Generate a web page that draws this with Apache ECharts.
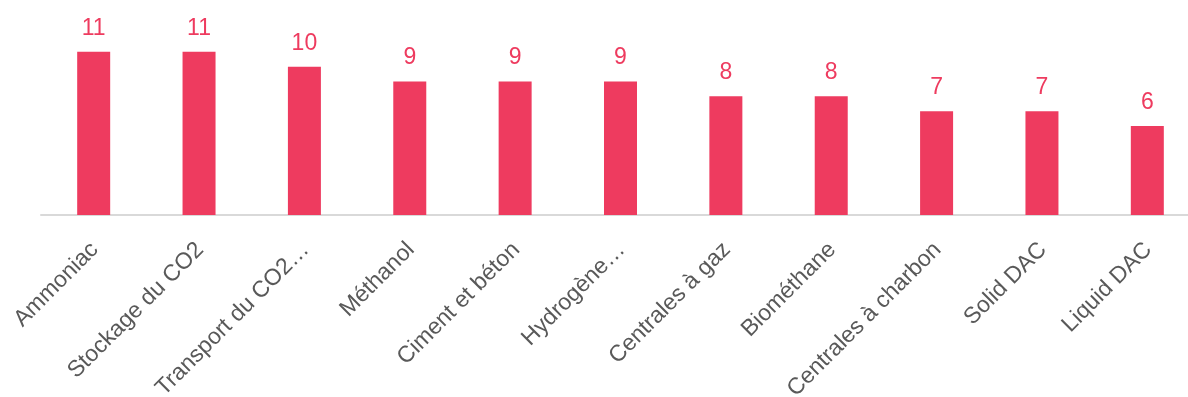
<!DOCTYPE html>
<html>
<head>
<meta charset="utf-8">
<script src="https://cdn.jsdelivr.net/npm/echarts@6/dist/echarts.min.js"></script>
<style>
    html, body { margin: 0; padding: 0; background: #fff; }
    #chart { width: 1188px; height: 397px; }
</style>
</head>
<body>
<div id="chart"></div>
<script>
    const categories = ['Ammoniac', 'Stockage du CO2', 'Transport du CO2…', 'Méthanol', 'Ciment et béton',
        'Hydrogène…', 'Centrales à gaz', 'Biométhane', 'Centrales à charbon', 'Solid DAC', 'Liquid DAC'];
    const values = [11, 11, 10, 9, 9, 9, 8, 8, 7, 7, 6];

    const myChart = echarts.init(document.getElementById('chart'));

    const option = {
        animation: false,
        textStyle: {
            fontFamily: 'Liberation Sans, Arial, sans-serif'
        },
        grid: {
            left: 41,
            right: -12,
            top: 37,
            bottom: 182,
            containLabel: false,
            outerBoundsMode: 'none'
        },
        xAxis: {
            type: 'category',
            data: categories,
            axisLine: {
                lineStyle: {
                    color: '#d9d9d9',
                    width: 2
                }
            },
            axisTick: {
                show: false
            },
            axisLabel: {
                interval: 0,
                rotate: 45,
                fontSize: 23,
                color: '#595959',
                margin: 16,
                padding: [0, 10, 0, 0],
                align: 'right',
                verticalAlign: 'top'
            }
        },
        yAxis: {
            type: 'value',
            min: 0,
            max: 12,
            show: false
        },
        series: [
            {
                type: 'bar',
                data: values,
                barWidth: 33,
                itemStyle: {
                    color: '#ee3b5f'
                },
                label: {
                    show: true,
                    position: 'top',
                    distance: 12,
                    fontSize: 23,
                    color: '#ee3b5f'
                }
            }
        ]
    };

    myChart.setOption(option);
</script>
</body>
</html>
